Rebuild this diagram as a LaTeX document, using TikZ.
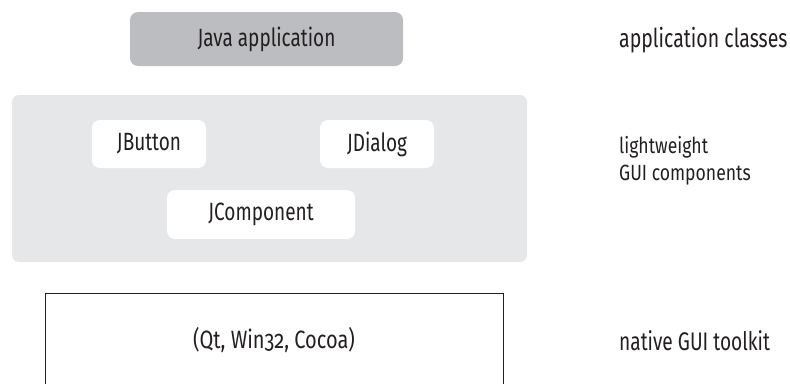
\documentclass[tikz,border=0pt]{standalone}
\usepackage{fontspec}
\setmainfont{Fira Sans}[FakeStretch=0.76,Numbers=OldStyle]
\newfontfamily\captionfont{Fira Sans}[FakeStretch=0.8,Numbers=OldStyle]
\newfontfamily\narrowcaption{Fira Sans}[FakeStretch=0.75,Numbers=OldStyle]
\definecolor{appgray}{HTML}{BCBDC0}
\definecolor{lightgray}{HTML}{E6E7E8}
\definecolor{inkcol}{HTML}{231F20}
\begin{document}
\begin{tikzpicture}[x=1pt,y=-1pt,
  lbl/.style={font=\fontsize{25}{28}\selectfont,text=inkcol},
  appbox/.style={fill=appgray,rounded corners=8pt},
  layerbox/.style={fill=lightgray,rounded corners=7pt},
  compbox/.style={fill=white,rounded corners=8pt},
  side/.style={text=inkcol,anchor=west,align=left,inner xsep=0pt}]
\useasboundingbox (0,0) rectangle (790,383);
% application layer
\fill[appbox] (130,12) rectangle (403,66);
\node[lbl] (app) at (266.5,39) {Java application};
% lightweight component layer
\fill[layerbox] (12,95) rectangle (527,262);
\fill[compbox] (92,120) rectangle (206,168);
\node[lbl] (jbutton) at (149,144) {JButton};
\fill[compbox] (320,120) rectangle (434,168);
\node[lbl] (jdialog) at (377,144) {JDialog};
\fill[compbox] (167,190) rectangle (355,239);
\node[lbl] (jcomp) at (261,214.5) {JComponent};
% native toolkit layer
\draw[inkcol,line width=1pt] (45,400) -- (45,293) -- (503,293) -- (503,400);
\node[lbl,font=\captionfont\fontsize{25}{28}\selectfont] (native) at (274,340) {(Qt, Win32, Cocoa)};
% side captions
\node[side,font=\narrowcaption\fontsize{26}{28}\selectfont] (capapp) at (619,40) {application classes};
\node[side,font=\captionfont\fontsize{22}{27.3}\selectfont] (caplw) at (619,161) {lightweight\\GUI components};
\node[side,font=\narrowcaption\fontsize{25.5}{30}\selectfont] (capnat) at (619,341) {native GUI toolkit};
\end{tikzpicture}
\end{document}
